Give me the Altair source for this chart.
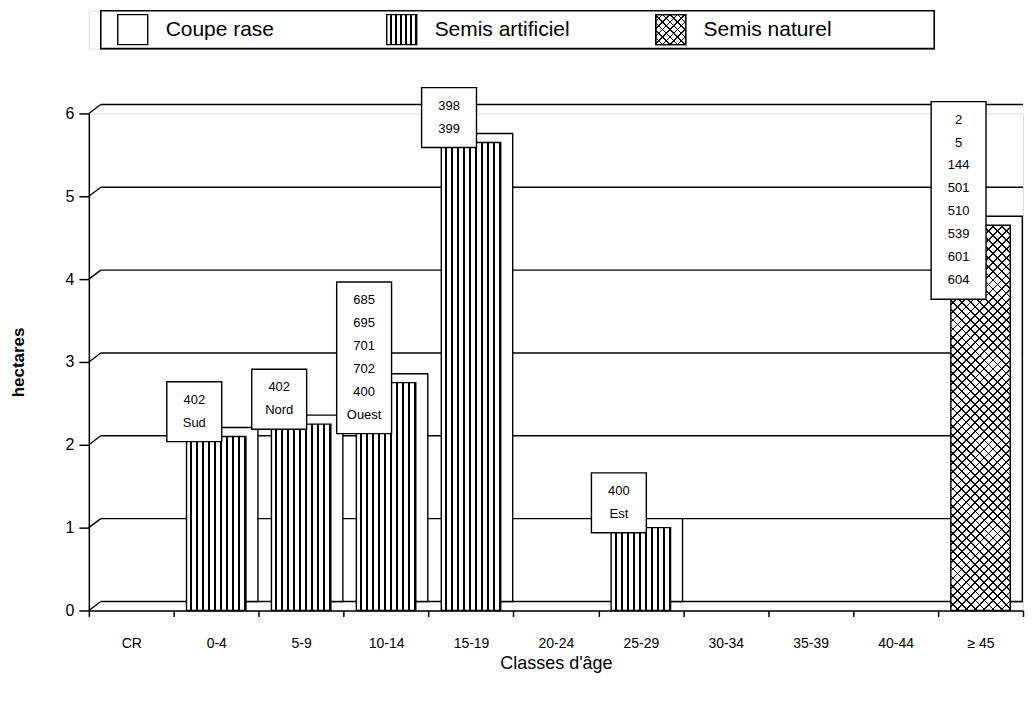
import altair as alt
import pandas as pd

# ---------------- data ----------------
categories = ["CR", "0-4", "5-9", "10-14", "15-19", "20-24", "25-29",
              "30-34", "35-39", "40-44", "≥ 45"]
hectares = [0, 2.1, 2.25, 2.75, 5.65, 0, 1.0, 0, 0, 0, 4.65]
types = ["Coupe rase", "Semis artificiel", "Semis artificiel", "Semis artificiel",
         "Semis artificiel", "", "Semis artificiel", "", "", "", "Semis naturel"]

label_categories = ["0-4", "5-9", "10-14", "15-19", "25-29", "≥ 45"]
label_texts = ["402\nSud", "402\nNord", "685\n695\n701\n702\n400\nOuest",
               "398\n399", "400\nEst", "2\n5\n144\n501\n510\n539\n601\n604"]

legend_labels = ["Coupe rase", "Semis artificiel", "Semis naturel"]
y_ticks = [0, 1, 2, 3, 4, 5, 6]

# ---------------- layout / style ----------------
W, H = 936, 498
DX, DY = 12, 9
BAND = 0.7
STEP = W / len(categories)
BAR_W = STEP * BAND
PPU = H / 6
FONT = "Liberation Sans"
LINE_H = 23
LAB_SHIFT = 0.3
LAB_DX = -22


def stripes(n, frac, light="white", dark="black", x1=0, y1=0, x2=1, y2=0):
    stops = []
    for i in range(n):
        a = i / n
        b = (i + 1 - frac) / n
        c = (i + 1) / n
        stops += [{"offset": a, "color": light}, {"offset": b, "color": light},
                  {"offset": b, "color": dark}, {"offset": c, "color": dark}]
    return {"gradient": "linear", "x1": x1, "y1": y1, "x2": x2, "y2": y2,
            "stops": stops}


def hatch_pair(w, h, period=9.0, frac=0.2):
    k = (w + h) / (w * w + h * h)
    n = max(1, round((w + h) / period))
    a = stripes(n, frac, "white", "black", 0, 0, k * w, k * h)
    b = stripes(n, frac, "rgba(255,255,255,0)", "black", 0, 1, k * w, 1 - k * h)
    return a, b


bars_df = pd.DataFrame({"cat": categories, "ha": hectares, "type": types})
nat_h = bars_df.loc[bars_df["type"] == "Semis naturel", "ha"].iloc[0] * PPU
hatchA, hatchB = hatch_pair(BAR_W, nat_h)
stripe_bar = stripes(10, 0.33)

x_axis = alt.Axis(title="Classes d'âge", labelAngle=0, tickBand="extent",
                  domainColor="black", domainWidth=1.5, tickColor="black",
                  tickSize=6, tickWidth=1.5, labelPadding=20, labelFontSize=14,
                  labelColor="black", labelFont=FONT, titleFont=FONT,
                  titleFontSize=18, titleFontWeight="normal", titleColor="black",
                  titlePadding=4, grid=False)
y_axis = alt.Axis(values=y_ticks, title="hectares", tickSize=10, tickWidth=1.5,
                  tickColor="black", domainColor="black", domainWidth=1.5,
                  labelFontSize=16, labelFont=FONT, labelColor="black",
                  labelPadding=5, titleFont=FONT, titleFontSize=17,
                  titleFontWeight="bold", titleColor="black", titlePadding=38,
                  grid=False)
x_scale = alt.Scale(domain=categories, paddingInner=0, paddingOuter=0)
y_scale = alt.Scale(domain=[0, 6], nice=False)

X = alt.X("cat:N", sort=categories, scale=x_scale, axis=x_axis)

# gridlines on the back wall
grid_df = pd.DataFrame({"v": y_ticks})
grid = alt.Chart(grid_df).mark_rule(color="black", strokeWidth=1.4, yOffset=-DY).encode(
    y=alt.Y("v:Q", scale=y_scale, axis=y_axis),
    x=alt.value(DX), x2=alt.value(W))
grid_stub = alt.Chart(grid_df).mark_rule(color="black", strokeWidth=1.4, y2Offset=-DY).encode(
    y=alt.Y("v:Q", scale=y_scale, axis=y_axis), y2="v:Q",
    x=alt.value(0), x2=alt.value(DX))

base = alt.Chart(bars_df).encode(
    x=X, y=alt.Y("ha:Q", scale=y_scale, axis=y_axis))

back = base.transform_filter("datum.ha > 0").mark_bar(
    fill="white", stroke="black", strokeWidth=1.4,
    width=alt.RelativeBandSize(BAND), xOffset=DX, yOffset=-DY, y2Offset=-DY)

front_art = base.transform_filter("datum.type == 'Semis artificiel'").mark_bar(
    fill=stripe_bar, stroke="black", strokeWidth=1.4,
    width=alt.RelativeBandSize(BAND))
front_natA = base.transform_filter("datum.type == 'Semis naturel'").mark_bar(
    fill=hatchA, strokeWidth=0, width=alt.RelativeBandSize(BAND))
front_natB = base.transform_filter("datum.type == 'Semis naturel'").mark_bar(
    fill=hatchB, stroke="black", strokeWidth=1.4,
    width=alt.RelativeBandSize(BAND))

# label boxes
lab_df = pd.DataFrame({"cat": label_categories, "txt": label_texts})
lab_df = lab_df.merge(bars_df[["cat", "ha"]], on="cat")
lab_df["n"] = [t.count("\n") + 1 for t in lab_df["txt"]]
lab_base = alt.Chart(lab_df).transform_calculate(
    top=f"datum.ha + {LAB_SHIFT} + (datum.n * {LINE_H} + 14) / 2 / {PPU}",
    bot=f"datum.ha + {LAB_SHIFT} - (datum.n * {LINE_H} + 14) / 2 / {PPU}")
boxes = lab_base.mark_bar(fill="white", stroke="black", strokeWidth=1.4,
                          width=55, xOffset=LAB_DX).encode(
    x=X, y=alt.Y("top:Q", scale=y_scale, axis=y_axis), y2="bot:Q")
texts = lab_base.mark_text(baseline="top", align="center", lineBreak="\n",
                           lineHeight=LINE_H, fontSize=13, font=FONT,
                           color="black", xOffset=LAB_DX, dy=12).encode(
    x=X, y=alt.Y("top:Q", scale=y_scale, axis=y_axis), text="txt:N")

main = alt.layer(grid, grid_stub, back, front_art, front_natA, front_natB,
                 boxes, texts).properties(width=W, height=H)

# ---------------- legend ----------------
# legend view starts at the same page x as the main plot area (x = 88)
LW, LH = 847, 38
BOX_L = 12          # legend frame left edge inside the legend view
SW = 30             # swatch side
leg_df = pd.DataFrame({"label": legend_labels})
lx = alt.X("label:N", sort=legend_labels, bandPosition=0,
           scale=alt.Scale(type="band", domain=legend_labels, paddingInner=0,
                           paddingOuter=0.0714, align=0.753), axis=None)
frame = alt.Chart(leg_df).mark_rect(fill="white", stroke="black",
                                    strokeWidth=1.5).encode(
    x=alt.value(BOX_L), x2=alt.value(LW), y=alt.value(0), y2=alt.value(LH))
leg_base = alt.Chart(leg_df).encode(x=lx)
sw = dict(shape="square", size=SW * SW, filled=True, stroke="black",
          strokeWidth=1.4, opacity=1, xOffset=SW / 2)
sw_cr = leg_base.transform_filter("datum.label == 'Coupe rase'").mark_point(
    fill="white", **sw)
sw_art = leg_base.transform_filter("datum.label == 'Semis artificiel'").mark_point(
    fill=stripes(6, 0.3), **sw)
lhA, lhB = hatch_pair(SW, SW, period=8)
sw_natA = leg_base.transform_filter("datum.label == 'Semis naturel'").mark_point(
    **{**sw, "fill": lhA})
sw_natB = leg_base.transform_filter("datum.label == 'Semis naturel'").mark_point(
    **{**sw, "fill": lhB})
leg_text = leg_base.mark_text(align="left", baseline="middle", fontSize=21,
                              font=FONT, color="black", xOffset=SW + 18).encode(
    text="label:N")
legend = alt.layer(frame, sw_cr, sw_art, sw_natA, sw_natB, leg_text).properties(
    width=LW, height=LH)

chart = alt.vconcat(legend, main, spacing=35).properties(
    padding=0).configure_view(strokeWidth=0, stroke="transparent").configure(
    background="white")

chart.save("out.html", embed_options={"renderer": "svg", "actions": False})
